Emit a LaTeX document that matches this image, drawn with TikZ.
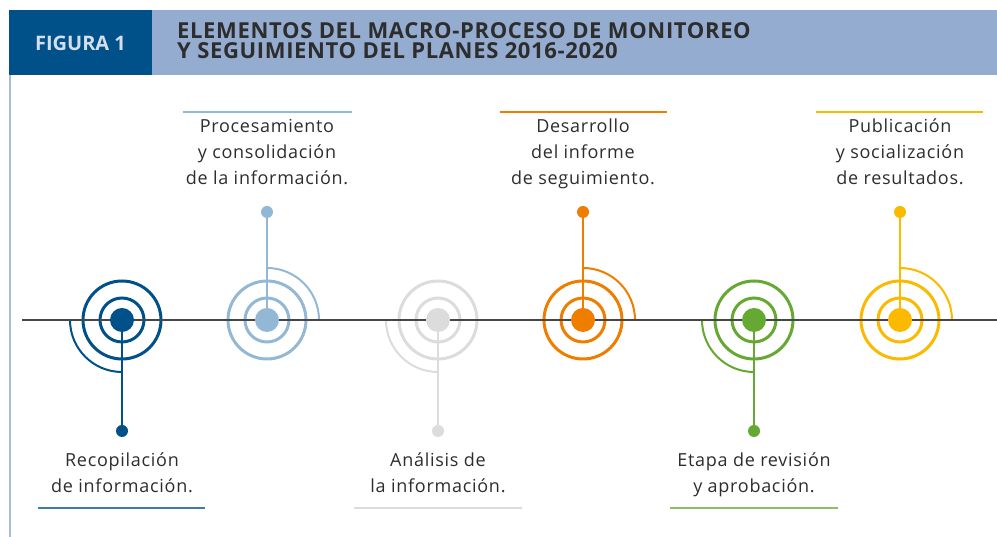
\documentclass[tikz,border=0pt]{standalone}
\usepackage{fontspec}
\setmainfont{Open Sans}
\usetikzlibrary{positioning}
\definecolor{azul}{RGB}{0,80,138}
\definecolor{celeste}{RGB}{147,184,214}
\definecolor{gris}{RGB}{220,220,220}
\definecolor{naranja}{RGB}{238,125,0}
\definecolor{verde}{RGB}{101,168,50}
\definecolor{amarillo}{RGB}{251,186,0}
\definecolor{cabecera}{RGB}{148,172,208}
\definecolor{rotulo}{RGB}{213,223,235}
\definecolor{texto}{RGB}{45,45,45}
\definecolor{eje}{RGB}{70,70,70}
\tikzset{
  anillo/.style = {line width=3pt},
  arco/.style = {line width=2pt},
  tallo/.style = {line width=2pt},
  punto/.style = {circle, inner sep=0pt, minimum size=24pt},
  puntito/.style = {circle, inner sep=0pt, minimum size=12pt},
  regla/.style = {line width=2pt},
  etiqueta/.style = {text=texto, align=center, anchor=base,
    font=\fontsize{18}{26}\selectfont\addfontfeature{LetterSpace=4}}
}

\begin{document}
\begin{tikzpicture}[x=1pt,y=1pt]
  \useasboundingbox (0,0) rectangle (997,537);
  % header
  \fill[azul] (9,462) rectangle (152,527);
  \fill[cabecera] (152,462) rectangle (997,527);
  \draw[cabecera!80!white,line width=1.5pt] (10,462) -- (10,0);
  \node[anchor=base,text=rotulo,
    font=\bfseries\fontsize{20}{22}\selectfont] (figura) at (80.5,486) {FIGURA 1};
  \node[anchor=base west,align=left,inner sep=0pt,text=texto,
    font=\bfseries\fontsize{22}{20.5}\selectfont\addfontfeature{LetterSpace=3}] (titulo) at (177,478)
    {ELEMENTOS DEL MACRO-PROCESO DE MONITOREO\\Y SEGUIMIENTO DEL PLANES 2016-2020};
  % rings and quarter arcs
  \foreach \nombre/\x/\col/\dir in {rec/122/azul/-1, pro/267/celeste/1,
      ana/438/gris/-1, des/583/naranja/1, eta/754/verde/-1, pub/900/amarillo/1} {
    \coordinate (\nombre) at (\x,217);
    \draw[anillo,\col] (\nombre) circle (22) (\nombre) circle (39);
    \draw[arco,\col] (\nombre) ++(52*\dir,0)
      arc[start angle={90-90*\dir}, end angle={180-90*\dir}, radius=52];
  }
  % axis
  \coordinate (eje-a) at (22,217);
  \coordinate (eje-b) at (997,217);
  \draw[eje,line width=2pt] (eje-a) -- (eje-b);
  % dots and stems
  \foreach \nombre/\x/\col/\yp in {rec/122/azul/106, pro/267/celeste/325,
      ana/438/gris/106, des/583/naranja/325, eta/754/verde/106, pub/900/amarillo/325} {
    \node[punto,fill=\col] (\nombre-c) at (\nombre) {};
    \node[puntito,fill=\col] (\nombre-p) at (\x,\yp) {};
    \draw[tallo,\col] (\nombre-c) -- (\nombre-p);
  }
  % labels above
  \node[etiqueta] (pro-t) at (267,352) {Procesamiento\\y consolidación\\de la información.};
  \node[etiqueta] (des-t) at (583,352) {Desarrollo\\del informe\\de seguimiento.};
  \node[etiqueta] (pub-t) at (900,352) {Publicación\\y socialización\\de resultados.};
  \draw[regla,celeste] (183,425) -- (352,425);
  \draw[regla,naranja] (500,425) -- (667,425);
  \draw[regla,amarillo] (816,425) -- (983,425);
  % labels below
  \node[etiqueta] (rec-t) at (122,44) {Recopilación\\de información.};
  \node[etiqueta] (ana-t) at (438,44) {Análisis de\\la información.};
  \node[etiqueta] (eta-t) at (754,44) {Etapa de revisión\\y aprobación.};
  \draw[regla,azul!75] (38,29) -- (205,29);
  \draw[regla,gris] (354,29) -- (522,29);
  \draw[regla,verde!75] (670,29) -- (838,29);
\end{tikzpicture}
\end{document}
